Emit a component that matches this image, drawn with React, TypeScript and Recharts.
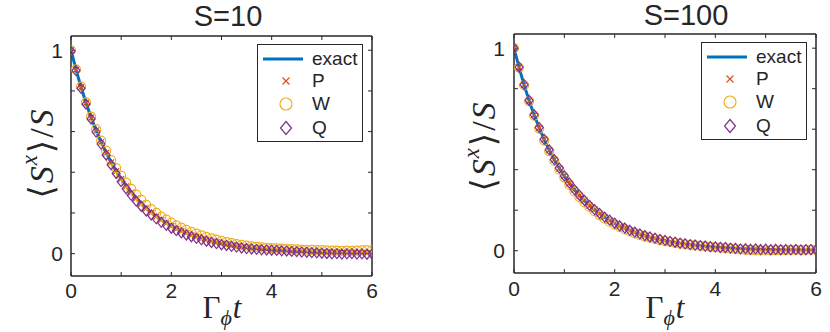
import { ComposedChart, Line, XAxis, YAxis, Legend, Label } from "recharts";

// time grid (Γφ t)
const T = [
  0, 0.1, 0.2, 0.3, 0.4, 0.5, 0.6, 0.7, 0.8, 0.9, 1, 1.1, 1.2, 1.3, 1.4, 1.5, 1.6, 1.7, 1.8, 1.9,
  2, 2.1, 2.2, 2.3, 2.4, 2.5, 2.6, 2.7, 2.8, 2.9, 3, 3.1, 3.2, 3.3, 3.4, 3.5, 3.6, 3.7, 3.8, 3.9,
  4, 4.1, 4.2, 4.3, 4.4, 4.5, 4.6, 4.7, 4.8, 4.9, 5, 5.1, 5.2, 5.3, 5.4, 5.5, 5.6, 5.7, 5.8, 5.9, 6,
];

const EXACT = [
  1.0, 0.905, 0.819, 0.741, 0.67, 0.607, 0.549, 0.497, 0.449, 0.407, 0.368, 0.333, 0.301, 0.273, 0.247,
  0.223, 0.202, 0.183, 0.165, 0.15, 0.135, 0.122, 0.111, 0.1, 0.091, 0.082, 0.074, 0.067, 0.061, 0.055,
  0.05, 0.045, 0.041, 0.037, 0.033, 0.03, 0.027, 0.025, 0.022, 0.02, 0.018, 0.017, 0.015, 0.014, 0.012,
  0.011, 0.01, 0.009, 0.008, 0.007, 0.007, 0.006, 0.006, 0.005, 0.005, 0.004, 0.004, 0.003, 0.003, 0.003,
  0.002,
];

// S = 10
const P10 = [
  1.0, 0.904, 0.818, 0.742, 0.669, 0.606, 0.548, 0.495, 0.449, 0.405, 0.367, 0.331, 0.3, 0.272, 0.245,
  0.223, 0.201, 0.182, 0.166, 0.149, 0.136, 0.121, 0.11, 0.101, 0.09, 0.083, 0.073, 0.068, 0.06, 0.056,
  0.049, 0.046, 0.04, 0.038, 0.032, 0.031, 0.026, 0.026, 0.021, 0.021, 0.017, 0.018, 0.014, 0.015, 0.011,
  0.012, 0.009, 0.01, 0.006, 0.008, 0.005, 0.007, 0.003, 0.006, 0.004, 0.005, 0.002, 0.004, 0.001, 0.004,
  0.001,
];
const W10 = [
  1.0, 0.906, 0.821, 0.744, 0.674, 0.612, 0.556, 0.506, 0.46, 0.42, 0.383, 0.349, 0.318, 0.29, 0.264,
  0.24, 0.219, 0.2, 0.182, 0.167, 0.152, 0.139, 0.128, 0.117, 0.107, 0.098, 0.09, 0.082, 0.075, 0.069,
  0.063, 0.057, 0.052, 0.047, 0.043, 0.039, 0.036, 0.033, 0.031, 0.029, 0.027, 0.026, 0.025, 0.024, 0.022,
  0.021, 0.02, 0.019, 0.018, 0.017, 0.017, 0.016, 0.015, 0.015, 0.014, 0.015, 0.014, 0.015, 0.016, 0.017,
  0.016,
];
const Q10 = [
  0.995, 0.9, 0.813, 0.735, 0.662, 0.598, 0.539, 0.485, 0.437, 0.394, 0.354, 0.319, 0.287, 0.258, 0.233,
  0.21, 0.19, 0.171, 0.154, 0.139, 0.125, 0.113, 0.102, 0.092, 0.083, 0.075, 0.068, 0.061, 0.055, 0.049,
  0.044, 0.04, 0.036, 0.032, 0.028, 0.025, 0.023, 0.021, 0.019, 0.018, 0.017, 0.016, 0.014, 0.013, 0.011,
  0.01, 0.008, 0.007, 0.005, 0.004, 0.002, 0.001, -0.001, 0.0, -0.002, -0.001, 0.0, -0.002, -0.001, -0.003,
  -0.002,
];

// S = 100
const P100 = [
  1.0, 0.905, 0.819, 0.74, 0.671, 0.606, 0.55, 0.496, 0.45, 0.406, 0.369, 0.332, 0.302, 0.272, 0.248,
  0.222, 0.203, 0.182, 0.166, 0.149, 0.136, 0.121, 0.112, 0.099, 0.092, 0.081, 0.075, 0.066, 0.062, 0.054,
  0.051, 0.044, 0.042, 0.036, 0.034, 0.029, 0.028, 0.024, 0.023, 0.019, 0.019, 0.016, 0.016, 0.013, 0.013,
  0.01, 0.011, 0.008, 0.009, 0.006, 0.008, 0.005, 0.007, 0.004, 0.006, 0.004, 0.005, 0.003, 0.004, 0.003,
  0.003,
];
const W100 = [
  1.0, 0.904, 0.817, 0.739, 0.667, 0.603, 0.544, 0.491, 0.443, 0.4, 0.361, 0.325, 0.293, 0.265, 0.239,
  0.216, 0.195, 0.176, 0.158, 0.143, 0.129, 0.117, 0.105, 0.095, 0.086, 0.078, 0.07, 0.064, 0.058, 0.052,
  0.047, 0.043, 0.039, 0.035, 0.032, 0.029, 0.026, 0.024, 0.021, 0.019, 0.017, 0.015, 0.012, 0.01, 0.008,
  0.006, 0.004, 0.003, 0.002, 0.001, 0.001, 0.002, 0.002, 0.003, 0.003, 0.004, 0.004, 0.003, 0.004, 0.005,
  0.004,
];
const Q100 = [
  1.0, 0.906, 0.82, 0.742, 0.671, 0.608, 0.55, 0.498, 0.45, 0.408, 0.369, 0.334, 0.302, 0.274, 0.248,
  0.224, 0.203, 0.184, 0.166, 0.151, 0.136, 0.123, 0.112, 0.101, 0.092, 0.083, 0.075, 0.068, 0.062, 0.056,
  0.051, 0.046, 0.042, 0.037, 0.034, 0.03, 0.028, 0.025, 0.023, 0.02, 0.019, 0.016, 0.016, 0.013, 0.012,
  0.009, 0.01, 0.007, 0.009, 0.006, 0.008, 0.005, 0.007, 0.005, 0.006, 0.004, 0.006, 0.004, 0.005, 0.005,
  0.004,
];

const SERIES = ["exact", "P", "W", "Q"];
const X_TICKS = [0, 1, 2, 3, 4, 5, 6];
const X_LABELED = [0, 2, 4, 6];
const Y_TICKS = [0, 0.2, 0.4, 0.6, 0.8, 1];
const Y_LABELED = [0, 1];

const C_EXACT = "#0072BD";
const C_P = "#D95319";
const C_W = "#EDB120";
const C_Q = "#7E2F8E";
const INK = "#262626";
const SANS = "'Liberation Sans', Arial, sans-serif";
const SERIF = "'Liberation Serif', 'DejaVu Serif', serif";

const buildRows = (p: number[], w: number[], q: number[]) =>
  T.map((t, i) => ({ t, exact: EXACT[i], P: p[i], W: w[i], Q: q[i] }));

const xMark = (size: number) => (props: any) => {
  const { cx, cy, index } = props;
  if (cx == null || cy == null) return <g key={`x${index}`} />;
  const s = size;
  return (
    <path
      key={`x${index}`}
      d={`M${cx - s},${cy - s}L${cx + s},${cy + s}M${cx - s},${cy + s}L${cx + s},${cy - s}`}
      stroke={C_P}
      strokeWidth={1.2}
      fill="none"
    />
  );
};

const circleMark = (r: number) => (props: any) => {
  const { cx, cy, index } = props;
  if (cx == null || cy == null) return <g key={`o${index}`} />;
  return <circle key={`o${index}`} cx={cx} cy={cy} r={r} stroke={C_W} strokeWidth={1.2} fill="none" />;
};

const diamondMark = (w: number, h: number) => (props: any) => {
  const { cx, cy, index } = props;
  if (cx == null || cy == null) return <g key={`d${index}`} />;
  return (
    <path
      key={`d${index}`}
      d={`M${cx},${cy - h}L${cx + w},${cy}L${cx},${cy + h}L${cx - w},${cy}Z`}
      stroke={C_Q}
      strokeWidth={1.2}
      fill="none"
    />
  );
};

const legendIcon = (name: string) => {
  const cx = 28;
  const cy = 11;
  if (name === "exact") return <line x1={5} x2={45} y1={cy} y2={cy} stroke={C_EXACT} strokeWidth={3} />;
  if (name === "P") return xMark(3.5)({ cx, cy, index: 0 });
  if (name === "W") return circleMark(6)({ cx, cy, index: 0 });
  return diamondMark(5.5, 6.5)({ cx, cy, index: 0 });
};

const ROW_Y = [15, 37, 60, 84];

const LegendBox = () => (
  <div
    style={{
      boxSizing: "border-box",
      width: 106,
      height: 98,
      border: `1.5px solid ${INK}`,
      background: "#fff",
      position: "relative",
      fontFamily: SANS,
      fontSize: 19,
      color: INK,
    }}
  >
    {SERIES.map((name, i) => (
      <div
        key={name}
        style={{
          position: "absolute",
          left: 0,
          top: ROW_Y[i] - 12,
          height: 22,
          display: "flex",
          alignItems: "center",
        }}
      >
        <svg width={54} height={22} style={{ display: "block" }}>
          {legendIcon(name)}
        </svg>
        <span style={{ lineHeight: "22px" }}>{name}</span>
      </div>
    ))}
  </div>
);

type PanelProps = {
  title: string;
  titleX: number;
  titleY: number;
  rows: any[];
  margin: { top: number; right: number; bottom: number; left: number };
  yAxisWidth: number;
  xAxisHeight: number;
  xTickMargin: number;
  yTickMargin: number;
  yLabelX: number;
  yLabelY: number;
  xLabelX: number;
  xLabelY: number;
  legendLeft: number;
  legendTop: number;
};

const tickStyle = { fontSize: 21, fill: INK, fontFamily: SANS };

const Panel = (p: PanelProps) => (
  <ComposedChart width={415} height={332} data={p.rows} margin={p.margin}>
    <XAxis
      xAxisId="b"
      dataKey="t"
      type="number"
      domain={[0, 6]}
      allowDataOverflow
      ticks={X_TICKS}
      interval={0}
      height={p.xAxisHeight}
      tickSize={-4}
      tickMargin={p.xTickMargin}
      tick={tickStyle}
      tickFormatter={(v: number) => (X_LABELED.includes(v) ? String(v) : "")}
      axisLine={{ stroke: INK, strokeWidth: 1.5 }}
      tickLine={{ stroke: INK, strokeWidth: 1 }}
    >
      <Label
        content={() => (
          <g>
            <text
              x={p.titleX}
              y={p.titleY}
              textAnchor="middle"
              fontSize={29}
              fontFamily={SANS}
              fill={INK}
            >
              {p.title}
            </text>
            <text x={p.xLabelX} y={p.xLabelY} textAnchor="middle" fontFamily={SERIF} fill={INK} fontSize={31}>
              Γ
              <tspan fontStyle="italic" fontSize={22} dy={7}>
                ϕ
              </tspan>
              <tspan fontStyle="italic" dy={-7} dx={1}>
                t
              </tspan>
            </text>
          </g>
        )}
      />
    </XAxis>
    <XAxis
      xAxisId="top"
      orientation="top"
      type="number"
      dataKey="t"
      domain={[0, 6]}
      allowDataOverflow
      ticks={X_TICKS}
      interval={0}
      height={2}
      tickSize={-4}
      tickMargin={0}
      tick={{ fontSize: 1, fill: "none" }}
      tickFormatter={() => ""}
      axisLine={{ stroke: INK, strokeWidth: 1.5 }}
      tickLine={{ stroke: INK, strokeWidth: 1 }}
    />
    <YAxis
      yAxisId="l"
      type="number"
      domain={[-0.11, 1.07]}
      allowDataOverflow
      ticks={Y_TICKS}
      interval={0}
      width={p.yAxisWidth}
      tickSize={-4}
      tickMargin={p.yTickMargin}
      tick={tickStyle}
      tickFormatter={(v: number) => (Y_LABELED.includes(v) ? String(v) : "")}
      axisLine={{ stroke: INK, strokeWidth: 1.5 }}
      tickLine={{ stroke: INK, strokeWidth: 1 }}
    >
      <Label
        content={() => (
          <text
            x={p.yLabelX}
            y={p.yLabelY}
            transform={`rotate(-90 ${p.yLabelX} ${p.yLabelY})`}
            textAnchor="middle"
            dominantBaseline="central"
            fontFamily={SERIF}
            fontSize={34}
            fill={INK}
          >
            ⟨<tspan fontStyle="italic" dx={2}>S</tspan>
            <tspan fontStyle="italic" fontSize={23} dy={-12} dx={1}>
              x
            </tspan>
            <tspan dy={12} dx={2}>⟩</tspan>
            <tspan dx={2}>/</tspan>
            <tspan fontStyle="italic" dx={2}>S</tspan>
          </text>
        )}
      />
    </YAxis>
    <YAxis
      yAxisId="r"
      orientation="right"
      type="number"
      domain={[-0.11, 1.07]}
      allowDataOverflow
      ticks={Y_TICKS}
      interval={0}
      width={2}
      tickSize={-4}
      tickMargin={0}
      tick={{ fontSize: 1, fill: "none" }}
      tickFormatter={() => ""}
      axisLine={{ stroke: INK, strokeWidth: 1.5 }}
      tickLine={{ stroke: INK, strokeWidth: 1 }}
    />
    {/* invisible carrier so the mirrored top/right frame axes get drawn */}
    <Line
      xAxisId="top"
      yAxisId="r"
      dataKey="exact"
      stroke="none"
      dot={false}
      activeDot={false}
      legendType="none"
      isAnimationActive={false}
    />
    <Line
      xAxisId="b"
      yAxisId="l"
      dataKey="exact"
      stroke={C_EXACT}
      strokeWidth={3}
      dot={false}
      activeDot={false}
      isAnimationActive={false}
    />
    <Line
      xAxisId="b"
      yAxisId="l"
      dataKey="P"
      stroke="none"
      dot={xMark(3)}
      activeDot={false}
      isAnimationActive={false}
    />
    <Line
      xAxisId="b"
      yAxisId="l"
      dataKey="W"
      stroke="none"
      dot={circleMark(4.5)}
      activeDot={false}
      isAnimationActive={false}
    />
    <Line
      xAxisId="b"
      yAxisId="l"
      dataKey="Q"
      stroke="none"
      dot={diamondMark(4, 5)}
      activeDot={false}
      isAnimationActive={false}
    />
    <Legend
      layout="vertical"
      align="center"
      verticalAlign="middle"
      content={() => <LegendBox />}
      wrapperStyle={{ left: p.legendLeft, top: p.legendTop, width: 106, height: 98 }}
    />
  </ComposedChart>
);

export default function App() {
  return (
    <div style={{ position: "absolute", left: 0, top: 0, width: 830, height: 332, background: "#fff", display: "flex" }}>
      <Panel
        title="S=10"
        titleX={228}
        titleY={26}
        rows={buildRows(P10, W10, Q10)}
        margin={{ top: 34, right: 41, bottom: 0, left: 0 }}
        yAxisWidth={71}
        xAxisHeight={56}
        xTickMargin={11}
        yTickMargin={12}
        yLabelX={41}
        yLabelY={154}
        xLabelX={222}
        xLabelY={318}
        legendLeft={257}
        legendTop={44}
      />
      <Panel
        title="S=100"
        titleX={271}
        titleY={25}
        rows={buildRows(P100, W100, Q100)}
        margin={{ top: 32, right: 12, bottom: 0, left: 0 }}
        yAxisWidth={99}
        xAxisHeight={59}
        xTickMargin={12}
        yTickMargin={13}
        yLabelX={68}
        yLabelY={147}
        xLabelX={250}
        xLabelY={318}
        legendLeft={286}
        legendTop={42}
      />
    </div>
  );
}
